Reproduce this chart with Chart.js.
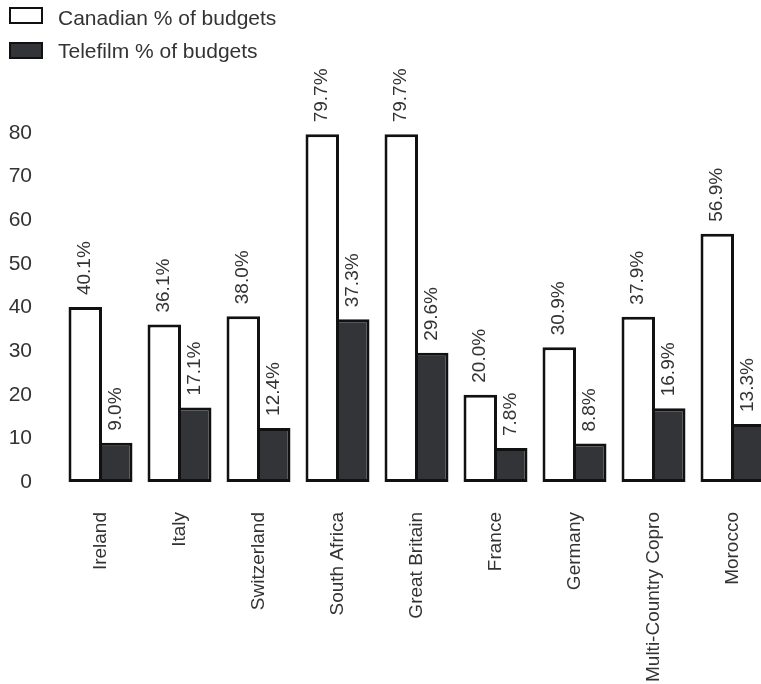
<!DOCTYPE html>
<html>
<head>
<meta charset="utf-8">
<script src="https://cdn.jsdelivr.net/npm/chart.js@4/dist/chart.umd.min.js"></script>
<style>
  html, body { margin: 0; padding: 0; overflow: hidden; background: #fff; width: 761px; height: 684px; }
  #wrap { position: relative; width: 772px; height: 684px; }
  canvas { position: absolute; left: 0; top: 0; }
  .lg { position: absolute; left: 9px; font-family: 'Liberation Sans', Arial, sans-serif; font-size: 21px; color: #333; white-space: nowrap; }
  .lg .box { position: absolute; left: 0; width: 30px; height: 13px; border: 2px solid #111; }
  .lg .txt { position: absolute; left: 49px; top: -3px; line-height: 24px; }
</style>
</head>
<body>
<div id="wrap">
  <canvas id="c" width="772" height="684"></canvas>
  <div class="lg" style="top:7px"><div class="box" style="background:#fff"></div><div class="txt" style="top:-1px">Canadian % of budgets</div></div>
  <div class="lg" style="top:42px"><div class="box" style="background:#333438"></div><div class="txt">Telefilm % of budgets</div></div>
</div>
<script>
const categories = ['Ireland', 'Italy', 'Switzerland', 'South Africa', 'Great Britain', 'France', 'Germany', 'Multi-Country Copro', 'Morocco'];
const canadianPct = [40.1, 36.1, 38.0, 79.7, 79.7, 20.0, 30.9, 37.9, 56.9];
const telefilmPct = [9.0, 17.1, 12.4, 37.3, 29.6, 7.8, 8.8, 16.9, 13.3];
const seriesNames = ['Canadian % of budgets', 'Telefilm % of budgets'];
const yTicks = [0, 10, 20, 30, 40, 50, 60, 70, 80];

const FONT = "'Liberation Sans', Arial, sans-serif";

const barLabels = {
  id: 'barLabels',
  afterDatasetsDraw(chart) {
    const ctx = chart.ctx;
    ctx.save();
    ctx.font = '19px ' + FONT;
    ctx.fillStyle = '#333';
    ctx.textAlign = 'left';
    ctx.textBaseline = 'middle';
    chart.data.datasets.forEach((ds, di) => {
      const meta = chart.getDatasetMeta(di);
      meta.data.forEach((el, i) => {
        ctx.save();
        ctx.translate(el.x, el.y - 12);
        ctx.rotate(-Math.PI / 2);
        ctx.fillText(ds.data[i].toFixed(1) + '%', 0, 0);
        ctx.restore();
      });
    });
    ctx.restore();
  }
};

new Chart(document.getElementById('c'), {
  type: 'bar',
  data: {
    labels: categories,
    datasets: [
      { label: seriesNames[0], data: canadianPct, backgroundColor: '#ffffff', borderColor: '#111', borderWidth: 3, borderSkipped: false },
      { label: seriesNames[1], data: telefilmPct, backgroundColor: '#333438', borderColor: '#111', borderWidth: 3, borderSkipped: false }
    ]
  },
  options: {
    responsive: false,
    devicePixelRatio: 1,
    animation: false,
    categoryPercentage: 0.772,
    barPercentage: 1.098,
    layout: { padding: { top: 133, left: 8, right: 0, bottom: 2 } },
    plugins: {
      legend: { display: false },
      tooltip: { enabled: false }
    },
    scales: {
      x: {
        grid: { display: false, drawTicks: false },
        border: { display: false },
        afterFit(scale) { scale.height = 200; scale.paddingLeft = 0; scale.paddingRight = 0; },
        ticks: {
          autoSkip: false, maxRotation: 90, minRotation: 90, padding: 30,
          font: { family: FONT, size: 19 }, color: '#333'
        }
      },
      y: {
        min: 0, max: 80,
        afterBuildTicks(scale) { scale.ticks = yTicks.map(v => ({ value: v })); },
        afterFit(scale) { scale.width = 53; scale.paddingTop = 0; scale.paddingBottom = 0; },
        grid: { display: false, drawTicks: false },
        border: { display: false },
        ticks: { padding: 29, font: { family: FONT, size: 21 }, color: '#333' }
      }
    }
  },
  plugins: [barLabels]
});
</script>
</body>
</html>
